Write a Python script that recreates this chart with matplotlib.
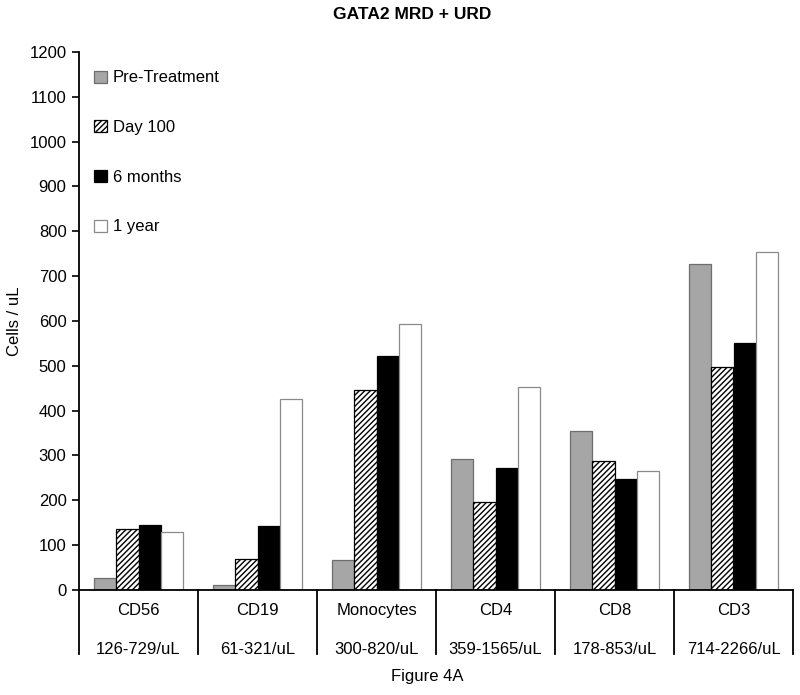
import numpy as np
import matplotlib
matplotlib.use("Agg")
import matplotlib.pyplot as plt
import matplotlib.transforms as mtransforms

plt.rcParams['font.family'] = ['Liberation Sans', 'DejaVu Sans']
plt.rcParams['hatch.linewidth'] = 1.0

categories = ["CD56", "CD19", "Monocytes", "CD4", "CD8", "CD3"]
ranges = ["126-729/uL", "61-321/uL", "300-820/uL", "359-1565/uL", "178-853/uL", "714-2266/uL"]
series = ["Pre-Treatment", "Day 100", "6 months", "1 year"]
pre_treatment = [27, 11, 67, 292, 355, 727]
day_100 = [136, 69, 445, 196, 288, 497]
six_months = [145, 143, 523, 272, 248, 551]
one_year = [129, 426, 594, 453, 265, 754]

values = [pre_treatment, day_100, six_months, one_year]
styles = [
    dict(color="#a6a6a6", edgecolor="#6e6e6e"),
    dict(color="white", edgecolor="black", hatch="//////"),
    dict(color="black", edgecolor="black"),
    dict(color="white", edgecolor="#8a8a8a"),
]

fig = plt.figure(figsize=(8, 6.95), dpi=100)
ax = fig.add_axes([0.09875, 0.1511, 0.8925, 0.7741])

x = np.arange(len(categories))
w = 0.185
for i, (vals, st) in enumerate(zip(values, styles)):
    ax.bar(x + (i - 1.5) * w, vals, w, label=series[i], linewidth=0.9, **st)

ax.set_xlim(-0.5, len(categories) - 0.5)
ax.set_ylim(0, 1200)
ax.set_yticks(np.arange(0, 1201, 100))
ax.tick_params(axis='y', labelsize=12, length=5, width=1.2, direction='out', pad=4)
ax.set_xticks([])
for s in ["top", "right"]:
    ax.spines[s].set_visible(False)
ax.spines["left"].set_linewidth(1.3)
ax.spines["bottom"].set_linewidth(1.3)

trans = mtransforms.blended_transform_factory(ax.transData, ax.transAxes)
for d in np.arange(-0.5, len(categories), 1.0):
    ax.plot([d, d], [0, -0.119], transform=trans, color="black", lw=1.3, clip_on=False)
for xi, cat, rng in zip(x, categories, ranges):
    ax.text(xi, -0.039, cat, transform=trans, ha="center", va="center", fontsize=12)
    ax.text(xi, -0.1115, rng, transform=trans, ha="center", va="center", fontsize=12)

ax.set_ylabel("Cells / uL", fontsize=12, labelpad=5)

leg = ax.legend(loc="upper left", bbox_to_anchor=(0.012, 0.978), frameon=False,
                fontsize=12, handlelength=0.75, handleheight=0.75, handletextpad=0.35,
                labelspacing=2.08, borderaxespad=0)

fig.text(0.515, 0.979, "GATA2 MRD + URD", ha="center", va="center", fontsize=12.5, fontweight="bold")
fig.text(0.534, 0.026, "Figure 4A", ha="center", va="center", fontsize=12)

fig.savefig("out.png", dpi=100)
